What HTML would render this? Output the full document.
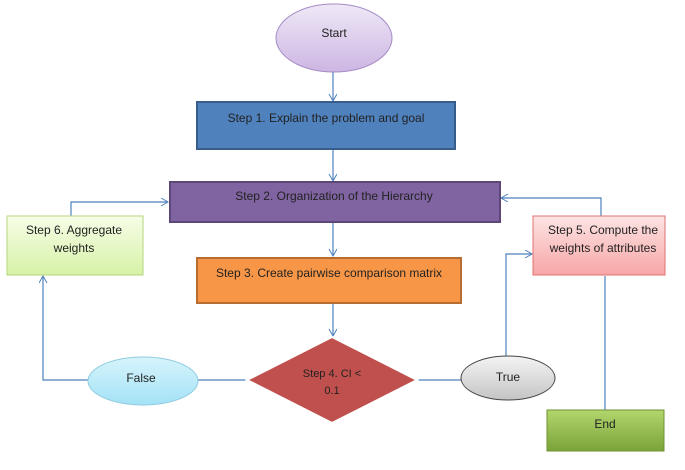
<!DOCTYPE html>
<html><head><style>body{margin:0;background:#fff}</style></head><body>
<svg width="685" height="465" viewBox="0 0 685 465" xmlns="http://www.w3.org/2000/svg" font-family="Liberation Sans, sans-serif" font-size="12" fill="#222">
<defs>
<linearGradient id="gs" x1="0" y1="0" x2="0" y2="1"><stop offset="0" stop-color="#efe8f6"/><stop offset="1" stop-color="#cdb6e3"/></linearGradient>
<linearGradient id="g6" x1="0" y1="0" x2="0" y2="1"><stop offset="0" stop-color="#f7fde8"/><stop offset="1" stop-color="#d6f2a6"/></linearGradient>
<linearGradient id="g5" x1="0" y1="0" x2="0" y2="1"><stop offset="0" stop-color="#fde4e4"/><stop offset="1" stop-color="#f7a6a6"/></linearGradient>
<linearGradient id="gf" x1="0" y1="0" x2="0" y2="1"><stop offset="0" stop-color="#d6f4fc"/><stop offset="1" stop-color="#a4e2f6"/></linearGradient>
<linearGradient id="gt" x1="0" y1="0" x2="0" y2="1"><stop offset="0" stop-color="#f4f4f4"/><stop offset="1" stop-color="#c4c4c4"/></linearGradient>
<linearGradient id="ge" x1="0" y1="0" x2="0" y2="1"><stop offset="0" stop-color="#b2d66c"/><stop offset="1" stop-color="#7aa33a"/></linearGradient>
<marker id="a" markerWidth="10" markerHeight="10" refX="8" refY="4" orient="auto" markerUnits="userSpaceOnUse"><path d="M1,0 L8,4 L1,8" fill="none" stroke="#4f81bd" stroke-width="1"/></marker>
</defs>
<g stroke="#4f81bd" stroke-width="1.2" fill="none">
<path d="M333,72 V101" marker-end="url(#a)"/>
<path d="M333,150 V181" marker-end="url(#a)"/>
<path d="M333,223 V256" marker-end="url(#a)"/>
<path d="M333,304 V336" marker-end="url(#a)"/>
<path d="M247,380 H198"/>
<path d="M88,380 H43 V276" marker-end="url(#a)"/>
<path d="M71,216 V202 H168" marker-end="url(#a)"/>
<path d="M418,380 H461"/>
<path d="M506,356 V254 H532" marker-end="url(#a)"/>
<path d="M601,216 V198 H501" marker-end="url(#a)"/>
<path d="M605,276 V410"/>
</g>
<ellipse cx="334" cy="38" rx="58" ry="34" fill="url(#gs)" stroke="#a58bc6" stroke-width="1"/>
<text x="334" y="37" text-anchor="middle">Start</text>
<rect x="197" y="102" width="258" height="47" fill="#4f81bd" stroke="#385d8a" stroke-width="2"/>
<text x="326" y="122" text-anchor="middle">Step 1. Explain the problem and goal</text>
<rect x="170" y="182" width="330" height="40" fill="#8064a2" stroke="#5c4776" stroke-width="2"/>
<text x="334" y="200" text-anchor="middle">Step 2. Organization of the Hierarchy</text>
<rect x="7" y="216" width="136" height="59" fill="url(#g6)" stroke="#b5d67e" stroke-width="1"/>
<text x="74" y="234" text-anchor="middle">Step 6. Aggregate</text>
<text x="74" y="252" text-anchor="middle">weights</text>
<rect x="533" y="216" width="132" height="59" fill="url(#g5)" stroke="#e07070" stroke-width="1"/>
<text x="603" y="234" text-anchor="middle">Step 5. Compute the</text>
<text x="603" y="252" text-anchor="middle">weights of attributes</text>
<rect x="197" y="258" width="264" height="45" fill="#f79646" stroke="#b66d31" stroke-width="2"/>
<text x="329" y="277" text-anchor="middle">Step 3.  Create pairwise comparison matrix</text>
<polygon points="332,337 417,380 332,423 247,380" fill="#c0504d" stroke="#fff" stroke-width="2"/>
<text x="332" y="377" text-anchor="middle" font-size="11">Step 4. CI &lt;</text>
<text x="332" y="394" text-anchor="middle" font-size="11">0.1</text>
<ellipse cx="143" cy="381" rx="55" ry="24" fill="url(#gf)" stroke="#8fcbe0" stroke-width="1"/>
<text x="141" y="382" text-anchor="middle">False</text>
<ellipse cx="508" cy="378" rx="47" ry="22" fill="url(#gt)" stroke="#444" stroke-width="1"/>
<text x="508" y="381" text-anchor="middle">True</text>
<rect x="547" y="410" width="117" height="41" fill="url(#ge)" stroke="#6e9232" stroke-width="1"/>
<text x="605" y="428" text-anchor="middle">End</text>
</svg>
</body></html>
